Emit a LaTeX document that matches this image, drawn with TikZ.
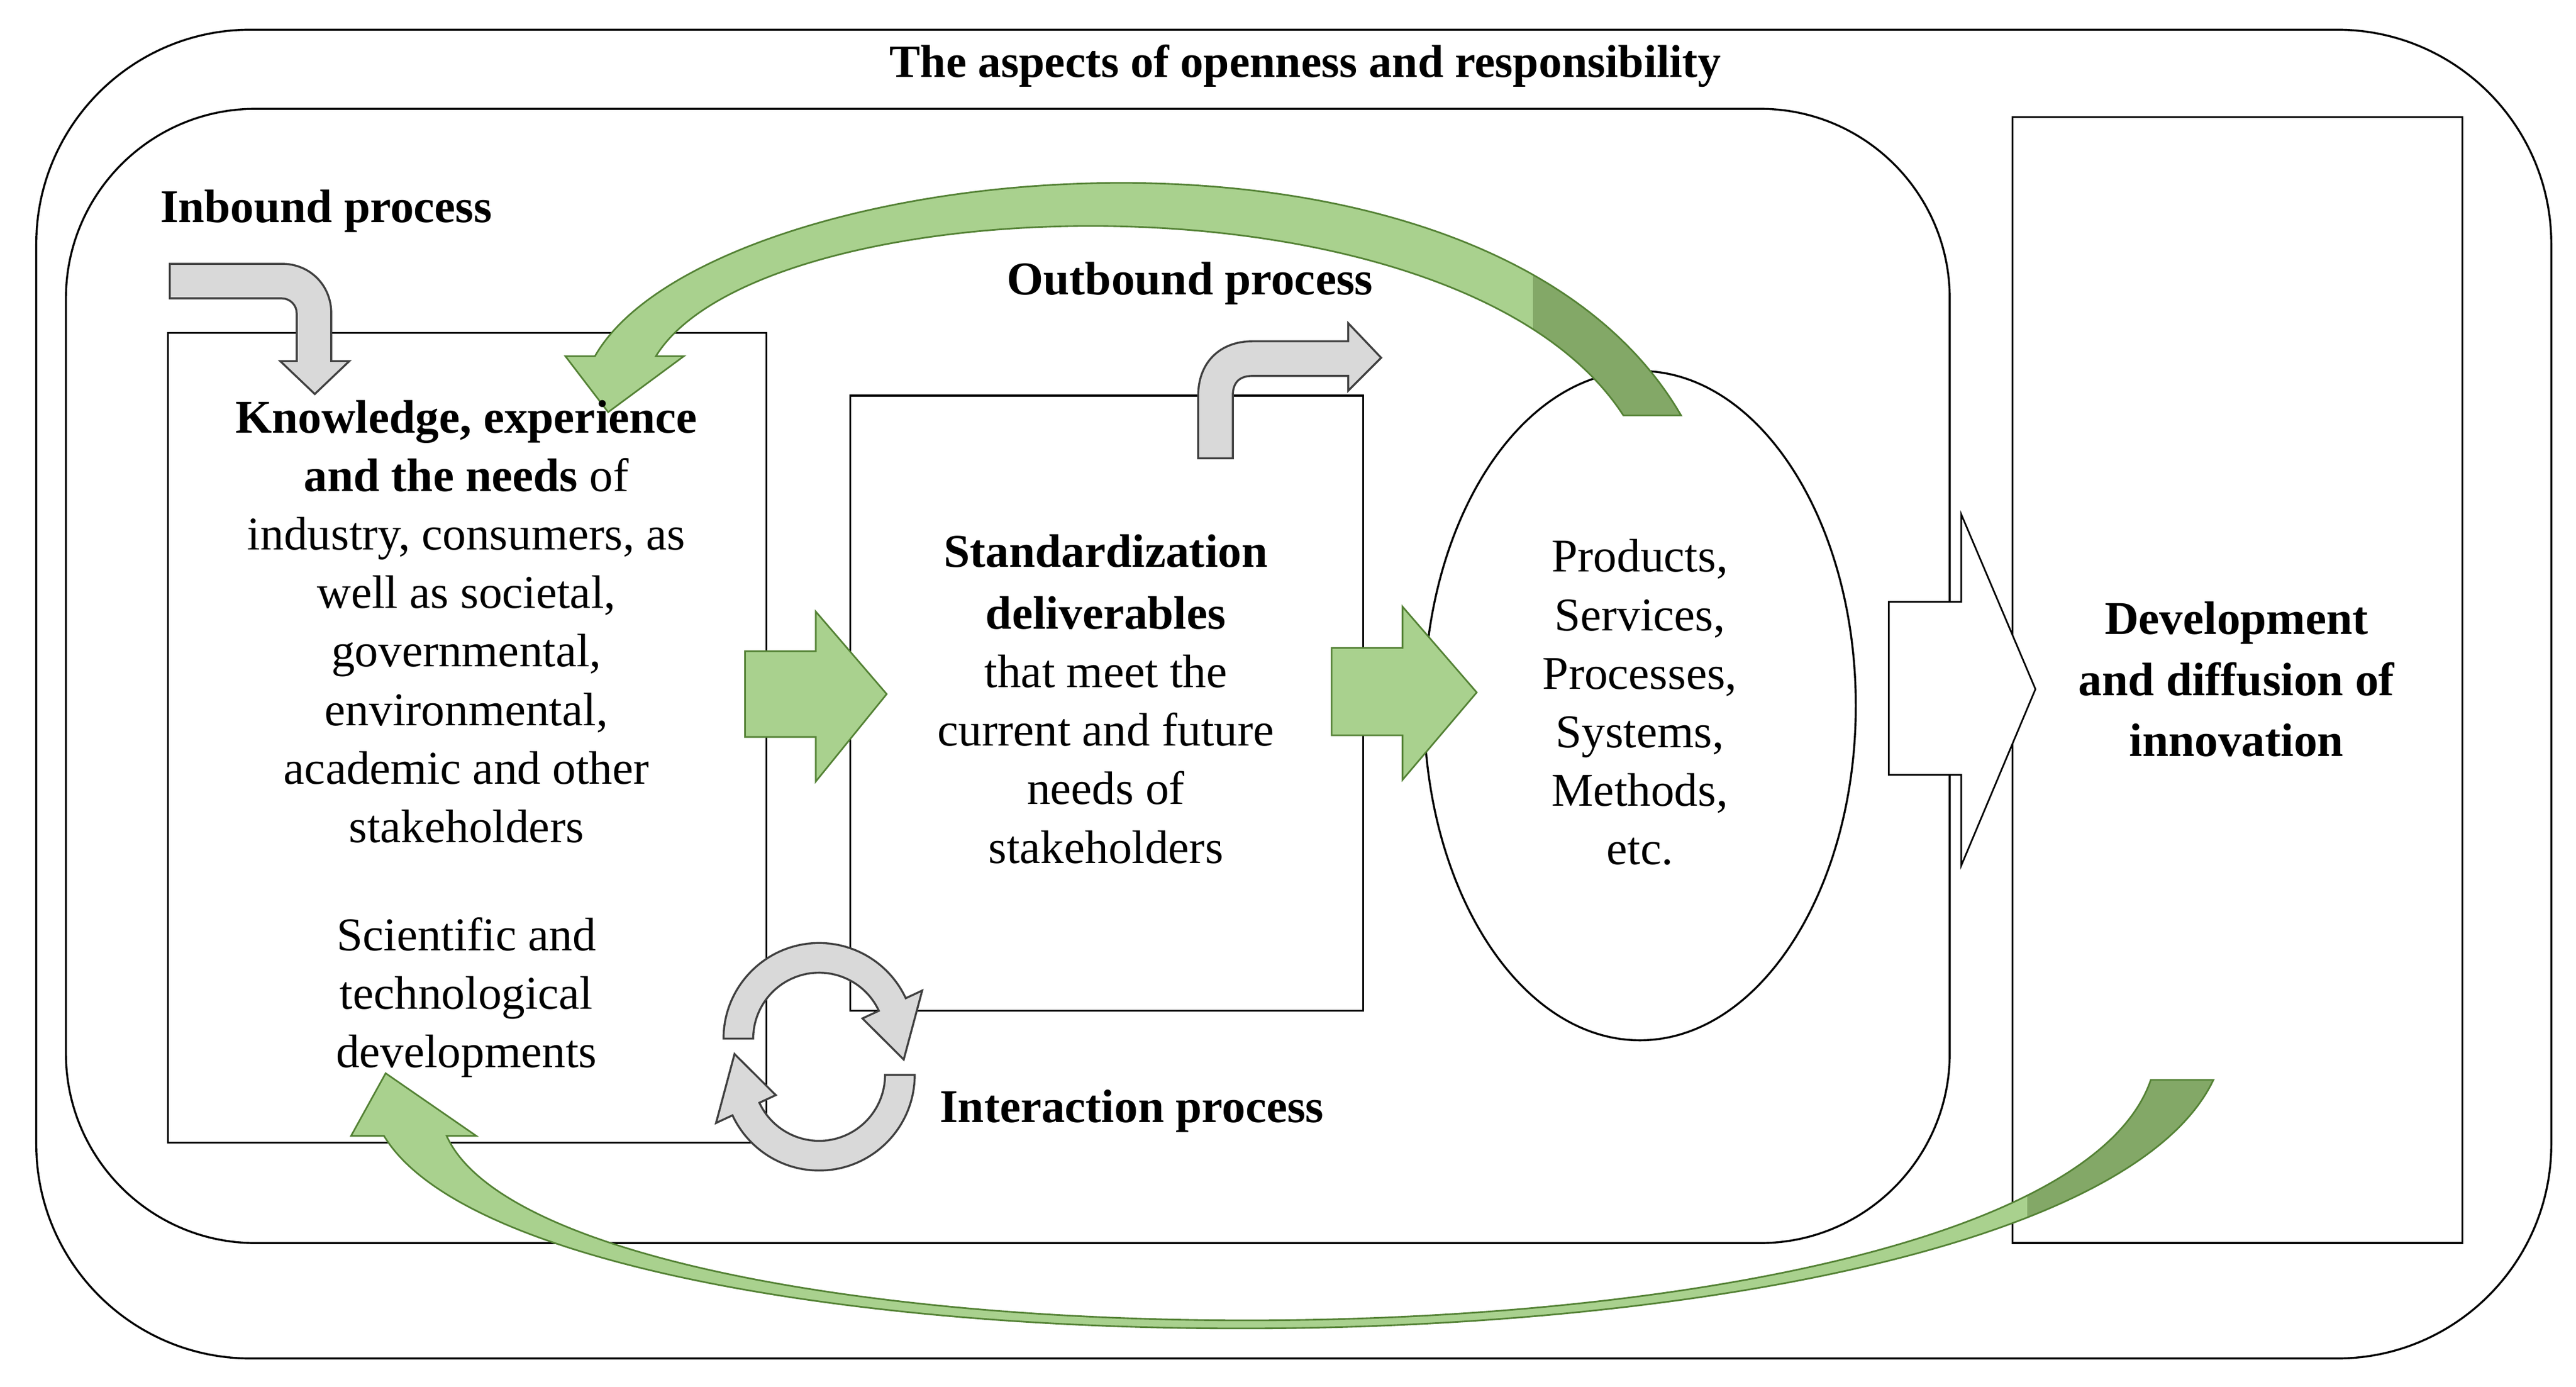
\documentclass[tikz,border=0pt]{standalone}
\usepackage{fontspec}
\setmainfont{Liberation Serif}
\begin{document}
\begin{tikzpicture}[x=1pt,y=-1pt,
  every node/.style={font=\fontsize{28.5}{35.5}\selectfont, align=center, inner sep=0pt},
  frame/.style={line width=1.2pt, draw=black},
  green/.style={fill=arrgreen, draw=arrgreenD, line width=1pt, line join=miter},
  gray/.style={fill=arrgray, draw=black!75, line width=1.2pt, line join=miter}]
\definecolor{arrgreen}{RGB}{169,209,142}
\definecolor{arrgreenS}{RGB}{131,168,103}
\definecolor{arrgreenD}{RGB}{84,130,53}
\definecolor{arrgray}{RGB}{217,217,217}
\useasboundingbox (0,0) rectangle (1563,841);
% frames
\draw[frame, rounded corners=130pt] (22,18) rectangle (1548,824);
\draw[frame, rounded corners=115pt] (40,66) rectangle (1183,754);
\node[font=\fontsize{28}{35}\selectfont\bfseries] (title) at (792,40) {The aspects of openness and responsibility};
\draw[frame] (102,202) rectangle (465,693);
\draw[frame] (516,240) rectangle (827,613);
\draw[frame, fill=white] (995,428) ellipse [x radius=131, y radius=203];
\node[minimum width=273pt, minimum height=683pt, frame] (rb) at (1357.5,412.5) {};
% green bottom arrow
\def\botpath{(233,689) .. controls (330,850) and (1250,850) .. (1343,655) -- (1305,655)
   .. controls (1240,845) and (340,842) .. (271,689) -- (289,689) -- (234,651) -- (213,689) -- cycle}
\fill[arrgreen] \botpath;
\begin{scope}
\clip \botpath;
\fill[arrgreenS] (1230,600) rectangle (1400,841);
\end{scope}
\draw[arrgreenD, line width=1pt] \botpath;
% green top arrow
\def\toppath{(361,216) .. controls (430,95) and (900,45) .. (1020,252) -- (985,252)
   .. controls (885,98) and (462,112) .. (398,216) -- (415,216) -- (369,250) -- (343,216) -- cycle}
\fill[arrgreen] \toppath;
\begin{scope}
\clip \toppath;
\fill[arrgreenS] (930,60) rectangle (1040,260);
\end{scope}
\draw[arrgreenD, line width=1pt] \toppath;
% gray inbound
\draw[gray] (103,160) -- (171,160) .. controls (188,160) and (201,173) .. (201,190) -- (201,219) -- (212,219) -- (191,239) -- (170,219) -- (180,219) -- (180,190) .. controls (180,185) and (176,181) .. (171,181) -- (103,181) -- cycle;
% gray outbound
\draw[gray] (727,278) -- (727,240) .. controls (727,220) and (740,207) .. (760,207) -- (818,207) -- (818,196) -- (838,217) -- (818,237) -- (818,228) -- (760,228) .. controls (752,228) and (748,232) .. (748,240) -- (748,278) -- cycle;
% interaction arrows
\draw[gray] (439,630) arc[start angle=180, end angle=335, radius=58] -- ({497+69*cos(335)},{630+69*sin(335)}) -- ({497+49*cos(15)+4},{630+49*sin(15)}) -- ({497+29*cos(335)},{630+29*sin(335)}) -- ({497+40*cos(335)},{630+40*sin(335)}) arc[start angle=335, end angle=180, radius=40] -- cycle;
\draw[gray] (555,652) arc[start angle=0, end angle=155, radius=58] -- ({497+69*cos(155)},{652+69*sin(155)}) -- ({497+49*cos(195)-4},{652+49*sin(195)}) -- ({497+29*cos(155)},{652+29*sin(155)}) -- ({497+40*cos(155)},{652+40*sin(155)}) arc[start angle=155, end angle=0, radius=40] -- cycle;
% straight arrows
\draw[green] (452,395) -- (495,395) -- (495,371) -- (538,421) -- (495,474) -- (495,447) -- (452,447) -- cycle;
\draw[green] (808,393) -- (851,393) -- (851,368) -- (896,420) -- (851,473) -- (851,446) -- (808,446) -- cycle;
\draw[line width=1pt, fill=white] (1146,365) -- (1190,365) -- (1190,312) -- (1235,418) -- (1190,525) -- (1190,470) -- (1146,470) -- cycle;
% texts
\node (t1) at (283,377) {\textbf{Knowledge, experience}\\ \textbf{and the needs} of\\ industry, consumers, as\\ well as societal,\\ governmental,\\ environmental,\\ academic and other\\ stakeholders};
\node (t2) at (283,605) {Scientific and\\ technological\\ developments};
\node (t3) at (671,424) {\textbf{Standardization}\\[2pt] \textbf{deliverables}\\ that meet the\\ current and future\\ needs of\\ stakeholders};
\node (t4) at (995,426) {Products,\\ Services,\\ Processes,\\ Systems,\\ Methods,\\ etc.};
\node[font=\fontsize{28.5}{37}\selectfont\bfseries] (t5) at (1357,412) {Development\\ and diffusion of\\ innovation};
\node[font=\fontsize{28.5}{35}\selectfont\bfseries, anchor=west] (l1) at (97,128) {Inbound process};
\node[font=\fontsize{28.5}{35}\selectfont\bfseries] (l2) at (722,172) {Outbound process};
\node[font=\fontsize{28.5}{35}\selectfont\bfseries, anchor=west] (l3) at (570,674) {Interaction process};
\end{tikzpicture}
\end{document}
